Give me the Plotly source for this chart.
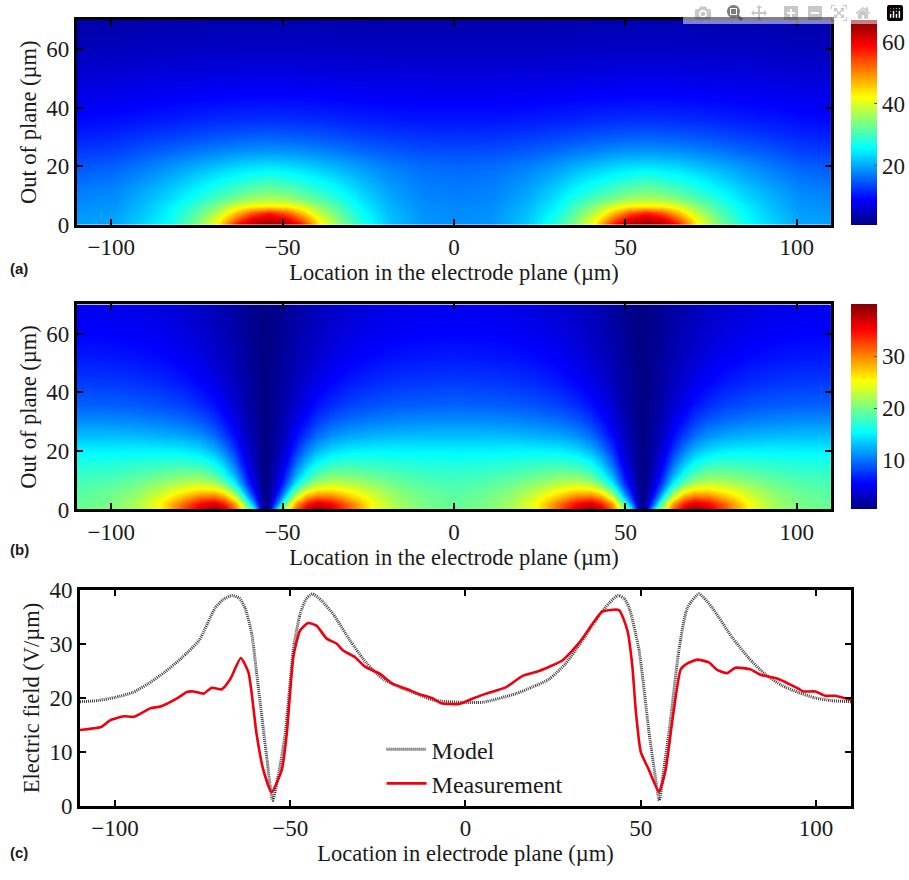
import plotly.graph_objects as go

W, H = 909, 880
SERIF = "Liberation Serif"
INK = "#1a1a1a"

# ---------- panel (a) values ----------
a_x_left = [-110, -99, -91, -83, -75, -69, -63, -59, -54, -49, -45, -39, -33, -27, -19, -9, 1]
a_y = [0, 2, 4, 6, 9, 12, 16, 20, 25, 30, 36, 44, 52, 60, 70]
a_z_half = [
    [19.5, 20, 23, 26.5, 34, 43, 59, 64, 66, 64, 59, 43, 34, 27.5, 22, 19, 18.5],
    [19.3, 19.8, 22.5, 26, 33, 41, 53, 60, 62, 60, 53, 41, 33, 27, 21.8, 18.9, 18.4],
    [19, 19.5, 22, 25.5, 31.5, 38, 47, 53, 57, 53, 47, 38, 31.5, 26, 21.5, 18.7, 18.2],
    [18.5, 19, 21.5, 25, 30, 35, 41, 43.5, 44, 43.5, 41, 35, 30, 25, 21, 18.4, 18],
    [17.8, 18.5, 20.8, 23.5, 27.5, 31, 34, 36, 37, 36, 34, 31, 27.5, 23.8, 20.3, 18, 17.6],
    [17.2, 17.9, 20, 22.5, 25.5, 28, 30.5, 32, 33, 32, 30.5, 28, 25.5, 22.6, 19.6, 17.6, 17.2],
    [16, 16.8, 18.5, 20.5, 23, 25, 26.5, 27.5, 28.5, 27.5, 26.5, 25, 23, 20.8, 18.6, 17, 16.6],
    [14.8, 15.5, 17, 18.8, 20.5, 21.8, 23, 23.5, 24, 23.5, 23, 21.8, 20.5, 19, 17.4, 16.2, 15.8],
    [13, 13.6, 14.8, 16, 17.2, 18, 18.8, 19, 19.3, 19, 18.8, 18, 17.2, 16.2, 15.2, 14.4, 14.2],
    [11.2, 11.8, 12.6, 13.4, 14.2, 14.8, 15.2, 15.4, 15.5, 15.4, 15.2, 14.8, 14.2, 13.6, 13, 12.5, 12.4],
    [9.6, 10, 10.6, 11, 11.5, 11.9, 12.1, 12.2, 12.3, 12.2, 12.1, 11.9, 11.5, 11.2, 10.9, 10.6, 10.6],
    [7.8, 8, 8.4, 8.7, 9, 9.2, 9.3, 9.4, 9.4, 9.4, 9.3, 9.2, 9, 8.8, 8.6, 8.5, 8.5],
    [6.2, 6.4, 6.6, 6.8, 7, 7.1, 7.1, 7.2, 7.2, 7.2, 7.1, 7.1, 7, 6.9, 6.8, 6.7, 6.7],
    [4.8, 4.9, 5.1, 5.2, 5.3, 5.4, 5.4, 5.4, 5.4, 5.4, 5.4, 5.4, 5.3, 5.2, 5.2, 5.1, 5.1],
    [3.5, 3.6, 3.7, 3.8, 3.8, 3.9, 3.9, 3.9, 3.9, 3.9, 3.9, 3.9, 3.8, 3.8, 3.7, 3.7, 3.7],
]

# ---------- panel (b): values against distance from an electrode ----------
b_electrodes = [-55, 55]
b_dist = [0, 1, 2, 3.5, 5, 6.5, 9, 12, 15, 19, 24, 31, 38, 46, 55]
b_y = [0, 2, 4, 6, 9, 12, 16, 20, 25, 30, 36, 44, 52, 60, 70]
b_z_half = [
    [0.5, 3, 8, 16, 21, 25, 31, 37, 39, 37, 32, 25, 22, 20.3, 19.3],
    [0.5, 2, 5, 11, 17, 22, 29, 34, 36.5, 35, 31, 25, 21.8, 20, 19.1],
    [0.5, 1.5, 3.5, 8, 12.5, 17.5, 24, 29.5, 31.5, 31, 28, 24, 21.2, 19.7, 18.9],
    [0.5, 1.3, 2.8, 6, 9.5, 13.5, 20, 25, 27, 27, 25.5, 22.8, 20.6, 19.3, 18.6],
    [0.5, 1.1, 2.2, 4.5, 7, 10, 15, 19.5, 22, 23, 22.5, 21, 19.6, 18.6, 18.1],
    [0.5, 1, 1.9, 3.7, 5.5, 8, 12, 16, 18.5, 20, 20, 19.2, 18.4, 17.7, 17.4],
    [0.5, 0.9, 1.6, 2.9, 4.3, 6, 9.5, 13, 15.3, 16.8, 17.3, 17.1, 16.8, 16.5, 16.3],
    [0.5, 0.8, 1.4, 2.4, 3.6, 4.8, 7.5, 10.5, 12.5, 14, 14.8, 15, 15, 14.9, 14.9],
    [0.5, 0.8, 1.2, 2, 2.8, 3.8, 5.8, 8, 9.8, 11.2, 12, 12.5, 12.8, 12.9, 12.9],
    [0.5, 0.7, 1.1, 1.7, 2.4, 3.1, 4.6, 6.2, 7.7, 9, 9.8, 10.4, 10.8, 11, 11],
    [0.5, 0.7, 1, 1.5, 2, 2.6, 3.6, 4.8, 6, 7, 7.9, 8.5, 8.9, 9.1, 9.2],
    [0.5, 0.6, 0.9, 1.3, 1.7, 2.1, 2.9, 3.7, 4.5, 5.4, 6.2, 6.9, 7.3, 7.5, 7.6],
    [0.5, 0.6, 0.8, 1.1, 1.5, 1.8, 2.4, 3, 3.6, 4.4, 5.1, 5.7, 6.1, 6.3, 6.4],
    [0.5, 0.6, 0.8, 1, 1.3, 1.6, 2.1, 2.6, 3.1, 3.7, 4.3, 4.9, 5.2, 5.4, 5.5],
    [0.5, 0.6, 0.7, 0.9, 1.1, 1.4, 1.8, 2.2, 2.6, 3.1, 3.6, 4.1, 4.5, 4.7, 4.8],
]

# ---------- panel (c) curves ----------
model_x = [-110, -105, -100, -95, -90.6, -86, -81, -76, -71.4, -69, -66.6, -64.5, -62.9, -61, -59.6, -58, -56.7,
           -55, -53.3, -51.5, -50, -49, -47.2, -45.5, -43.7, -41, -37.7, -33, -28.3, -23.5, -18.8, -14, -9.3, -1.7,
           4.9, 14.4, 19, 23.9, 28.6, 33.4, 38, 41, 43.5, 45.2, 46.7, 49.5, 52.3, 53.8,
           55.3, 56.6, 58, 60.9, 63.3, 66.6, 70.4, 76, 80.8, 85.5, 90.3, 95, 99.8, 104.5, 110]
model_y = [19.3, 19.5, 20.1, 21, 22.6, 24.7, 27.4, 30.7, 36.7, 38.3, 39, 38.5, 36.7, 32, 24.7, 16, 9,
           1, 6, 13, 23, 29.5, 35.5, 38.3, 39.3, 38, 35.5, 30.7, 26.5, 23.5, 22, 20.8, 19.6, 19.2,
           19.2, 20.8, 22, 23.5, 26.4, 30.7, 35.2, 37.6, 39, 38.5, 36.7, 28.9, 13.9, 7,
           1, 7, 13.3, 28.9, 36.7, 39.3, 36.7, 31.3, 27.4, 24.4, 22.3, 21, 20, 19.5, 19.3]
meas_x = [-110, -104, -101.3, -97.5, -94.6, -89.9, -87, -82.3, -79.5, -77.6, -74.7, -72.4, -69.5, -67.1, -64.1,
          -61.9, -59.6, -57.7, -55.3, -52.4, -51, -49.1, -47.2, -44.9, -42.5, -39.6, -36.8, -34.9, -31.6, -28.7,
          -24.5, -20.7, -16.9, -13.6, -9.3, -6.9, -1.7, 2.1, 5.9, 11.6, 16.3, 21, 27.7, 32.4, 36.2, 39, 43.8,
          46.2, 47.6, 48.6, 50, 52.3, 55.2, 57.1, 59, 61.4, 63.3, 66.1, 69.4, 71.8, 74.6, 77, 81.3, 84.1, 88.9,
          95, 96.4, 99.8, 102.6, 105.5, 110]
meas_y = [14.05, 14.6, 15.9, 16.6, 16.5, 18.1, 18.4, 19.9, 21.1, 21.2, 20.8, 21.9, 21.6, 23.5, 27.4,
          24.7, 13.3, 6.7, 2.5, 6.7, 13.3, 27.7, 32.5, 33.9, 33.4, 31, 30.1, 28.8, 27.6, 25.8,
          24.5, 22.6, 21.7, 20.8, 19.9, 19, 18.9, 19.9, 20.8, 22, 24.1, 25, 27, 30.2, 33.7, 36, 36.3,
          32.5, 25.9, 17.5, 10, 6.7, 2.6, 6.7, 15.7, 25.3, 26.4, 27.1, 26.6, 25.2, 24.6, 25.6, 25.3, 24.3, 23.6,
          21.7, 21.2, 21.2, 20.4, 20.4, 19.6]

x_ticks = [-100, -50, 0, 50, 100]
y_ticks_map = [0, 20, 40, 60]
y_ticks_line = [0, 10, 20, 30, 40]
a_cbar_ticks = [20, 40, 60]
b_cbar_ticks = [10, 20, 30]

# mirror the half tables
a_x = a_x_left + [2 - v for v in reversed(a_x_left[:-1])]
a_z = [r + r[-2::-1] for r in a_z_half]

b_x = ([b_electrodes[0] - d for d in reversed(b_dist)]
       + [b_electrodes[0] + d for d in b_dist[1:]]
       + [b_electrodes[1] - d for d in reversed(b_dist[:-1])]
       + [b_electrodes[1] + d for d in b_dist[1:]])
b_z = [r[::-1] + r[1:] + r[-2::-1] + r[1:] for r in b_z_half]

JET = [[0, "rgb(0,0,131)"], [0.125, "rgb(0,0,255)"], [0.375, "rgb(0,255,255)"],
       [0.625, "rgb(255,255,0)"], [0.875, "rgb(255,0,0)"], [1, "rgb(128,0,0)"]]


def dx(l, r):
    return [l / W, r / W]


def dy(t, b):
    return [1 - b / H, 1 - t / H]


def cbar(ticks, top, bottom):
    return dict(x=852 / W, xanchor="left", xpad=0, y=1 - bottom / H, yanchor="bottom", ypad=0,
                len=(bottom - top) / H, lenmode="fraction", thickness=26, thicknessmode="pixels",
                outlinewidth=0, tickvals=ticks, ticks="inside", ticklen=3, tickcolor="#555",
                tickfont=dict(family=SERIF, size=23, color=INK))


fig = go.Figure()
fig.add_trace(go.Heatmap(x=a_x, y=a_y, z=a_z, zmin=1, zmax=67, colorscale=JET, zsmooth="best",
                         colorbar=cbar(a_cbar_ticks, 8, 219), xaxis="x", yaxis="y", showlegend=False))
fig.add_trace(go.Heatmap(x=b_x, y=b_y, z=b_z, zmin=0.5, zmax=40, colorscale=JET, zsmooth="best",
                         colorbar=cbar(b_cbar_ticks, 301, 512), xaxis="x2", yaxis="y2", showlegend=False))
fig.add_trace(go.Scatter(x=model_x, y=model_y, mode="lines", name="Model", xaxis="x3", yaxis="y3",
                         line=dict(color="#3c3c3c", width=3, dash="1px,1px", shape="spline", smoothing=0.6)))
fig.add_trace(go.Scatter(x=meas_x, y=meas_y, mode="lines", name="Measurement", xaxis="x3", yaxis="y3",
                         line=dict(color="#f0000f", width=2.6, shape="spline", smoothing=0.5)))


def ax(domain, anchor, ticks, rng, title, standoff, lw):
    return dict(domain=domain, anchor=anchor, range=rng, tickvals=ticks, ticks="inside", ticklen=6, tickwidth=2,
                tickcolor="black", showline=True, linecolor="black", linewidth=lw, mirror="ticks", showgrid=False,
                zeroline=False, tickfont=dict(family=SERIF, size=23, color=INK),
                title=dict(text=title, standoff=standoff, font=dict(family=SERIF, size=22.5, color=INK)))


XT = "Location in the electrode plane (µm)"
YT = "Out of plane (µm)"
fig.update_layout(
    width=W, height=H, margin=dict(l=0, r=0, t=0, b=0), paper_bgcolor="white", plot_bgcolor="white",
    xaxis=ax(dx(77, 832), "y", x_ticks, [-110, 110], XT, 0, 3),
    yaxis=ax(dy(8, 219), "x", y_ticks_map, [0, 70], YT, 4, 3),
    xaxis2=ax(dx(77, 832), "y2", x_ticks, [-110, 110], XT, 0, 3),
    yaxis2=ax(dy(301, 512), "x2", y_ticks_map, [0, 70], YT, 4, 3),
    xaxis3=ax(dx(80, 852), "y3", x_ticks, [-110, 110], "Location in electrode plane (µm)", 0, 2.5),
    yaxis3=ax(dy(595, 817), "x3", y_ticks_line, [0, 40], "Electric field (V/µm)", 4, 2.5),
    legend=dict(x=382 / W, y=1 - 736 / H, xanchor="left", yanchor="top", bgcolor="rgba(0,0,0,0)",
                font=dict(family=SERIF, size=24, color=INK), itemwidth=40),
    annotations=[
        dict(text="<b>%s</b>" % t, x=8 / W, y=1 - yy / H, xref="paper", yref="paper", xanchor="left", yanchor="middle",
             showarrow=False, font=dict(family="Liberation Sans", size=15, color=INK))
        for t, yy in [("(a)", 264), ("(b)", 553), ("(c)", 865)]
    ],
)
fig.write_html("out.html", post_script="document.body.style.margin='0';")
